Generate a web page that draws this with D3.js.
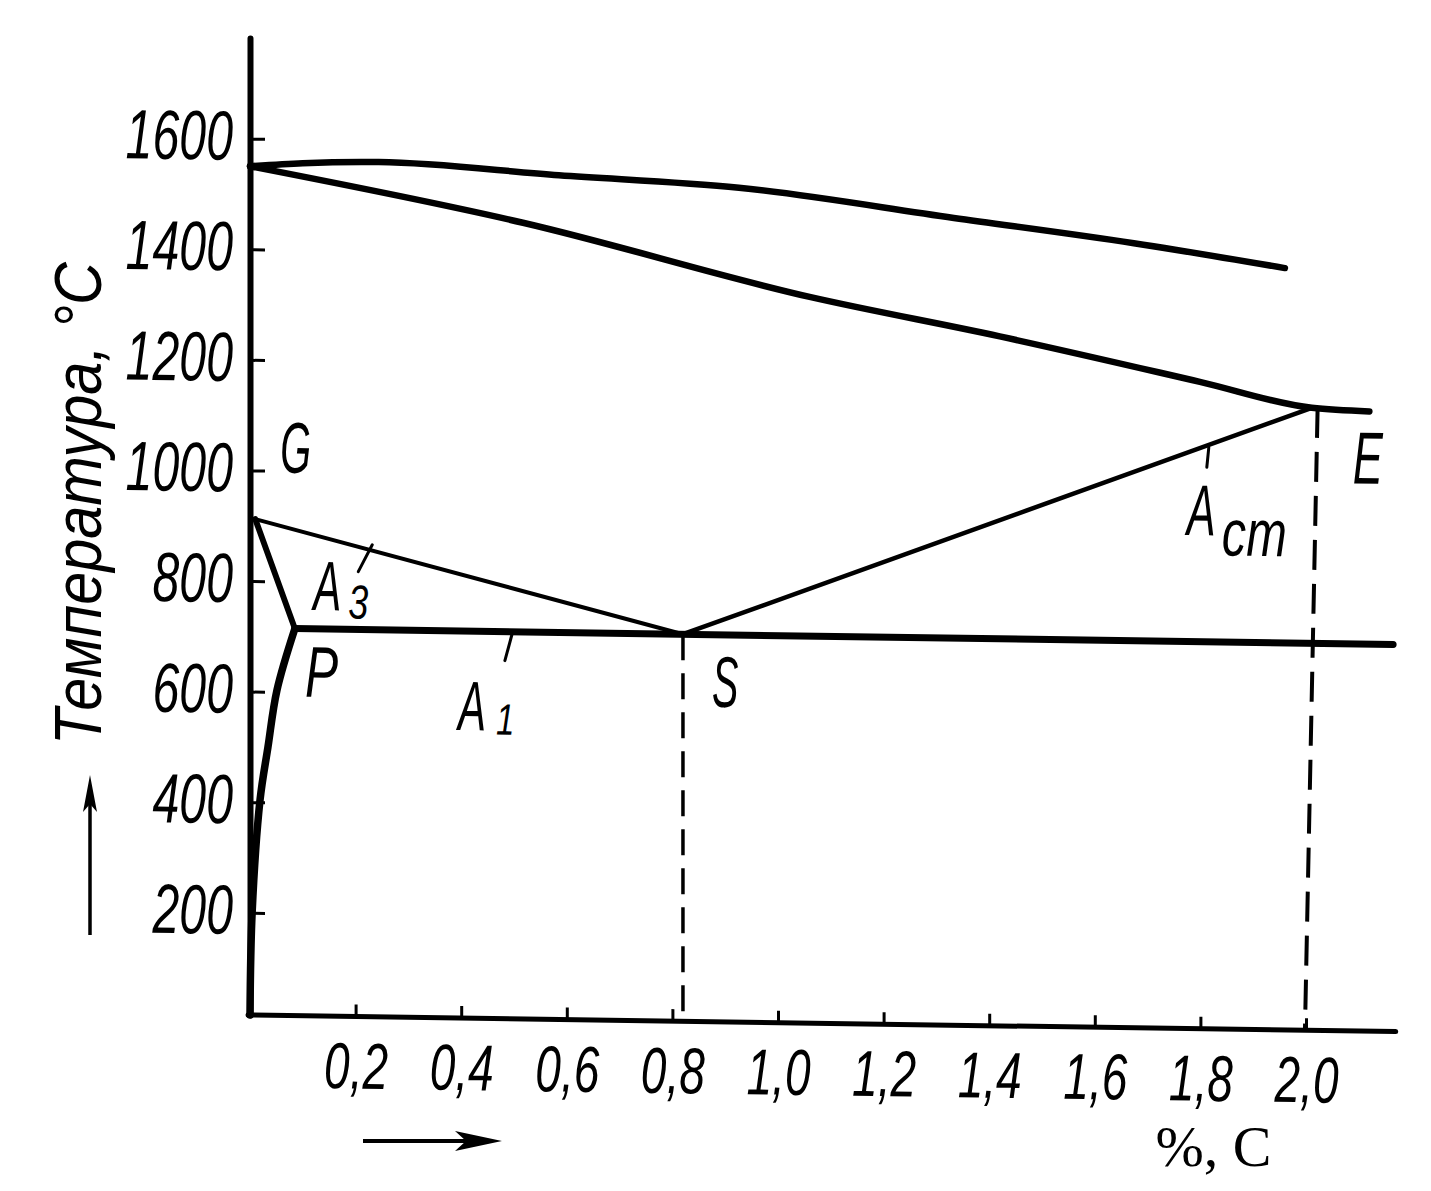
<!DOCTYPE html>
<html><head><meta charset="utf-8">
<script src="https://cdn.jsdelivr.net/npm/d3@7"></script>
<style>body{margin:0;background:#fff} svg{display:block}</style>
</head><body>
<svg id="chart" width="1431" height="1191"></svg>
<script>
// ---- data ----
const carbonTicks = [0.2,0.4,0.6,0.8,1.0,1.2,1.4,1.6,1.8,2.0];
const carbonTickLabels = ["0,2","0,4","0,6","0,8","1,0","1,2","1,4","1,6","1,8","2,0"];
const tempTicks = [200,400,600,800,1000,1200,1400,1600];
const tempTickLabels = ["200","400","600","800","1000","1200","1400","1600"];

const upperLineC = [0, 0.10, 0.244, 0.585, 0.926, 1.333, 1.674, 1.960];
const upperLineT = [1550, 1557, 1561, 1542, 1524, 1475, 1434, 1393];
const lowerLineC = [0, 0.517, 1.062, 1.420, 1.799, 2.011, 2.120];
const lowerLineT = [1550, 1455, 1328, 1262, 1185, 1141, 1136];
const pqLineC = [0.085, 0.051, 0.034, 0.019, 0.004, 0];
const pqLineT = [715, 603, 500, 404, 199, 15];
const gpLineC = [0.01, 0.085];  const gpLineT = [912, 715];
const gsLineC = [0.01, 0.82];   const gsLineT = [912, 715];
const a1LineC = [0.085, 2.165]; const a1LineT = [715, 715];
const acmLineC = [0.82, 2.011]; const acmLineT = [715, 1141];
const sDropC = [0.82, 0.82];    const sDropT = [715, 15];
const eDropC = [2.022, 1.998];  const eDropT = [1141, 15];

const pointNames = ["G","P","S","E"];
const pointC = [0.01, 0.085, 0.82, 2.011];
const pointT = [912, 715, 715, 1141];

const xDomain = [0, 2.17];
const yDomain = [15, 1782];
const yTitle = "Температура, °C";
const xTitle = "%, C";

// ---- drawing ----
const svg = d3.select("#chart");
const x = d3.scaleLinear().domain(xDomain).range([250, 250 + 2.17*528]);
const y = d3.scaleLinear().domain(yDomain).range([1015, 38]);
const k = 0.0145; // slight scan tilt of the original
const FN = "'Liberation Sans', Arial, sans-serif";

const g = svg.append("g").attr("transform", `matrix(1,${k},0,1,0,${-k*250})`);

function pts(cs, ts){ return d3.zip(cs, ts); }
const line = d3.line().x(d=>x(d[0])).y(d=>y(d[1]));
const smooth = d3.line().x(d=>x(d[0])).y(d=>y(d[1])).curve(d3.curveMonotoneX);
const smoothCR = d3.line().x(d=>x(d[0])).y(d=>y(d[1])).curve(d3.curveCatmullRom.alpha(0.5));

// axes
const gx = g.append("g").attr("transform", `translate(0,${y(yDomain[0])})`)
  .call(d3.axisBottom(x).tickValues(carbonTicks).tickSizeInner(-12).tickSizeOuter(0)
        .tickFormat((d,i)=>carbonTickLabels[i]));
const gy = g.append("g").attr("transform", `translate(${x(0)},0)`)
  .call(d3.axisLeft(y).tickValues(tempTicks).tickSizeInner(-15).tickSizeOuter(0)
        .tickFormat((d,i)=>tempTickLabels[i]));
[gx, gy].forEach(a => {
  a.attr("font-family", null).attr("font-size", null);
  a.select(".domain").attr("stroke","#000").attr("stroke-width",5).attr("stroke-linecap","round");
  a.selectAll(".tick line").attr("stroke","#000").attr("stroke-width",3);
});
gx.select(".domain").attr("d", `M${x(xDomain[0])-2},0H${x(xDomain[1])}`);
gx.selectAll(".tick text").attr("y",null).attr("dy",null)
  .attr("transform","translate(0,72) scale(0.71,1)")
  .attr("font-family",FN).attr("font-style","italic").attr("font-size",65).attr("fill","#000");
gy.select(".domain").attr("stroke-width",6);
gy.selectAll(".tick text").attr("x",null).attr("dy",null)
  .attr("transform","translate(-17,21) scale(0.69,1)")
  .attr("font-family",FN).attr("font-style","italic").attr("font-size",70).attr("fill","#000");

// phase lines
function draw(gen, data, w, dash){
  const p = g.append("path").attr("d", gen(data)).attr("fill","none")
    .attr("stroke","#000").attr("stroke-width",w).attr("stroke-linecap","round").attr("stroke-linejoin","round");
  if (dash) p.attr("stroke-dasharray", dash).attr("stroke-linecap","butt");
  return p;
}
draw(smooth, pts(upperLineC, upperLineT), 6.5);
draw(smooth, pts(lowerLineC, lowerLineT), 6.5);
draw(smoothCR, pts(pqLineC, pqLineT), 7.5);
draw(line, pts(gpLineC, gpLineT), 6);
draw(line, pts(gsLineC, gsLineT), 4);
draw(line, pts(a1LineC, a1LineT), 7);
draw(line, pts(acmLineC, acmLineT), 4.5);
draw(line, pts(sDropC, sDropT), 3.5, "26,13");
draw(line, pts(eDropC, eDropT), 4, "30,14");

// labels
const P = {}; pointNames.forEach((n,i)=>P[n]=[x(pointC[i]), y(pointT[i])]);
function txt(s, px, py, fs, sx, anchor, fam, style){
  return g.append("text").text(s)
    .attr("transform", `translate(${px},${py}) scale(${sx},1)`)
    .attr("font-family", fam || FN).attr("font-style", style || "italic")
    .attr("font-size", fs).attr("text-anchor", anchor || "start").attr("fill","#000");
}
function leader(p, a, b){
  g.append("line").attr("x1",p[0]+a[0]).attr("y1",p[1]+a[1]).attr("x2",p[0]+b[0]).attr("y2",p[1]+b[1])
    .attr("stroke","#000").attr("stroke-width",3).attr("stroke-linecap","round");
}
txt("G", P.G[0]+25, P.G[1]-47, 72, 0.55);
txt("P", P.P[0]+10, P.P[1]+68, 72, 0.69);
txt("S", P.S[0]+29, P.S[1]+72, 72, 0.55);
txt("E", P.E[0]+41, P.E[1]+75, 74, 0.61);
// A3
txt("A", P.G[0]+58, P.G[1]+90, 70, 0.6);
txt("3", P.G[0]+93, P.G[1]+98, 48, 0.75);
leader(P.G, [117,24], [103,51]);
// A1
txt("A", P.P[0]+163, P.P[1]+99, 70, 0.6);
txt("1", P.P[0]+201, P.P[1]+103, 44, 0.75);
leader(P.P, [217,3], [210,29]);
// Acm
txt("A", P.E[0]-125, P.E[1]+129, 72, 0.6);
txt("cm", P.E[0]-90, P.E[1]+149, 66, 0.74);
leader(P.E, [-103,41], [-105,61]);

// titles & arrows (outside tilted group)
svg.append("text").text(yTitle)
  .attr("transform","translate(101,745) rotate(-90)")
  .attr("font-family",FN).attr("font-style","italic").attr("font-size",66)
  .attr("textLength",483).attr("lengthAdjust","spacingAndGlyphs").attr("fill","#000");
svg.append("text").text(xTitle)
  .attr("x", x(1.715)).attr("y", 1166)
  .attr("font-family","'Liberation Serif', serif").attr("font-size",58).attr("fill","#000");

// arrows
svg.append("line").attr("x1",363).attr("y1",1141).attr("x2",470).attr("y2",1141)
  .attr("stroke","#000").attr("stroke-width",4);
svg.append("path").attr("d","M455,1131 L502,1141 L455,1151 L466,1141 Z").attr("fill","#000");
svg.append("line").attr("x1",90).attr("y1",935).attr("x2",90).attr("y2",800)
  .attr("stroke","#000").attr("stroke-width",3.5);
svg.append("path").attr("d","M83,812 L90,775 L97,812 L90,804 Z").attr("fill","#000");
</script>
</body></html>
